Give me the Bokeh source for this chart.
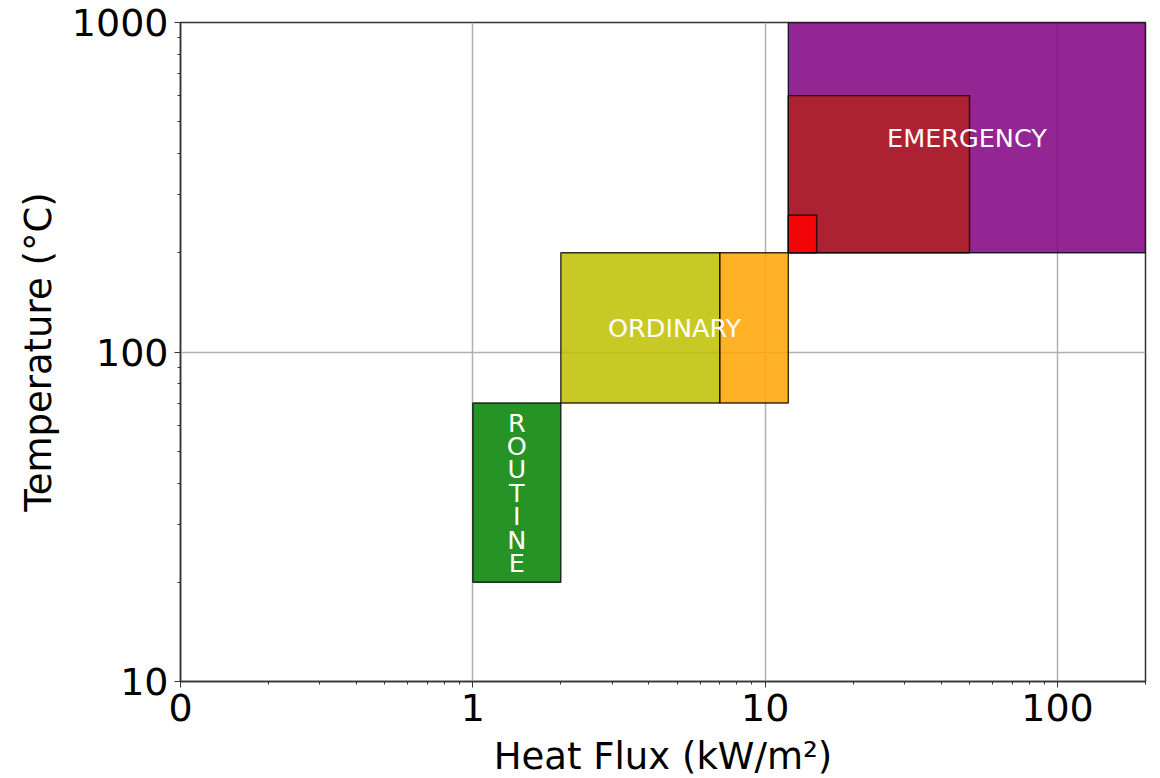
from bokeh.plotting import figure
from bokeh.models import Range1d, FixedTicker, ColumnDataSource
from bokeh.core.properties import value
from bokeh.embed import file_html
from bokeh.resources import INLINE

# ---- data ----
zone_names = ["EMERGENCY_BG", "EMERGENCY_DARK", "EMERGENCY_RED", "ORDINARY", "ORDINARY_HIGH", "ROUTINE"]
flux_lo = [12, 12, 12, 2, 7, 1]
flux_hi = [200, 50, 15, 7, 12, 2]
temp_lo = [200, 200, 200, 70, 70, 20]
temp_hi = [1000, 600, 260, 200, 200, 70]
zone_colors = ["purple", "firebrick", "red", "#bfbf00", "orange", "green"]

label_texts = ["EMERGENCY", "ORDINARY", "R\nO\nU\nT\nI\nN\nE"]
label_flux = [49, 4.9, 1.414]
label_temp = [447, 118, 37.4]

x_tick_vals = [0.1, 1, 10, 100]
x_tick_labels = ["0", "1", "10", "100"]
y_tick_vals = [10, 100, 1000]
y_tick_labels = ["10", "100", "1000"]

FONT = "DejaVu Sans"

p = figure(x_axis_type="log", y_axis_type="log",
           x_range=Range1d(0.1, 200), y_range=Range1d(10, 1000),
           frame_width=965, frame_height=659,
           min_border_left=180, min_border_top=22, min_border_right=8, min_border_bottom=10,
           output_backend="svg", toolbar_location=None)

src = ColumnDataSource(dict(left=flux_lo, right=flux_hi, bottom=temp_lo, top=temp_hi, color=zone_colors))
p.quad(left="left", right="right", bottom="bottom", top="top", source=src,
       fill_color="color", fill_alpha=0.85, line_color="black", line_alpha=0.8, line_width=1.4)

for t, xv, yv in zip(label_texts, label_flux, label_temp):
    p.text(x=[xv], y=[yv], text=[t], text_color="white", text_align="center",
           text_baseline="middle", text_font=value(FONT), text_font_size="25.5px",
           text_line_height=0.78)

# ---- axes ----
xt_minor = [k * 10.0 ** d for d in (-1, 0, 1, 2) for k in range(2, 10)]
yt_minor = [k * 10.0 ** d for d in (1, 2) for k in range(2, 10)]
p.xaxis.ticker = FixedTicker(ticks=x_tick_vals, minor_ticks=xt_minor)
p.yaxis.ticker = FixedTicker(ticks=y_tick_vals, minor_ticks=yt_minor)
p.xaxis.major_label_overrides = {v: l for v, l in zip(x_tick_vals, x_tick_labels)}
p.yaxis.major_label_overrides = {v: l for v, l in zip(y_tick_vals, y_tick_labels)}

p.xaxis.axis_label = "Heat Flux (kW/m²)"
p.yaxis.axis_label = "Temperature (°C)"
for ax in (p.xaxis, p.yaxis):
    ax.axis_label_text_font = FONT
    ax.axis_label_text_font_style = "normal"
    ax.axis_label_text_font_size = "37px"
    ax.axis_label_text_color = "black"
    ax.major_label_text_font = FONT
    ax.major_label_text_font_size = "38px"
    ax.major_label_text_color = "black"
    ax.axis_line_color = "#333333"
    ax.axis_line_width = 1.5
    ax.major_tick_line_color = "#333333"
    ax.minor_tick_line_color = "#333333"
    ax.major_tick_out = 6
    ax.major_tick_in = 0
    ax.minor_tick_out = 3
    ax.minor_tick_in = 0
    ax.major_label_standoff = 6
p.xaxis.axis_label_standoff = 11
p.yaxis.axis_label_standoff = 9

p.xgrid.ticker = FixedTicker(ticks=x_tick_vals)
p.ygrid.ticker = FixedTicker(ticks=y_tick_vals)
p.grid.grid_line_color = "#b0b0b0"
p.grid.grid_line_width = 1.5
p.outline_line_color = "#333333"
p.outline_line_width = 1.5
p.background_fill_color = "white"
p.border_fill_color = "white"

open("out.html", "w").write(file_html(p, INLINE))
